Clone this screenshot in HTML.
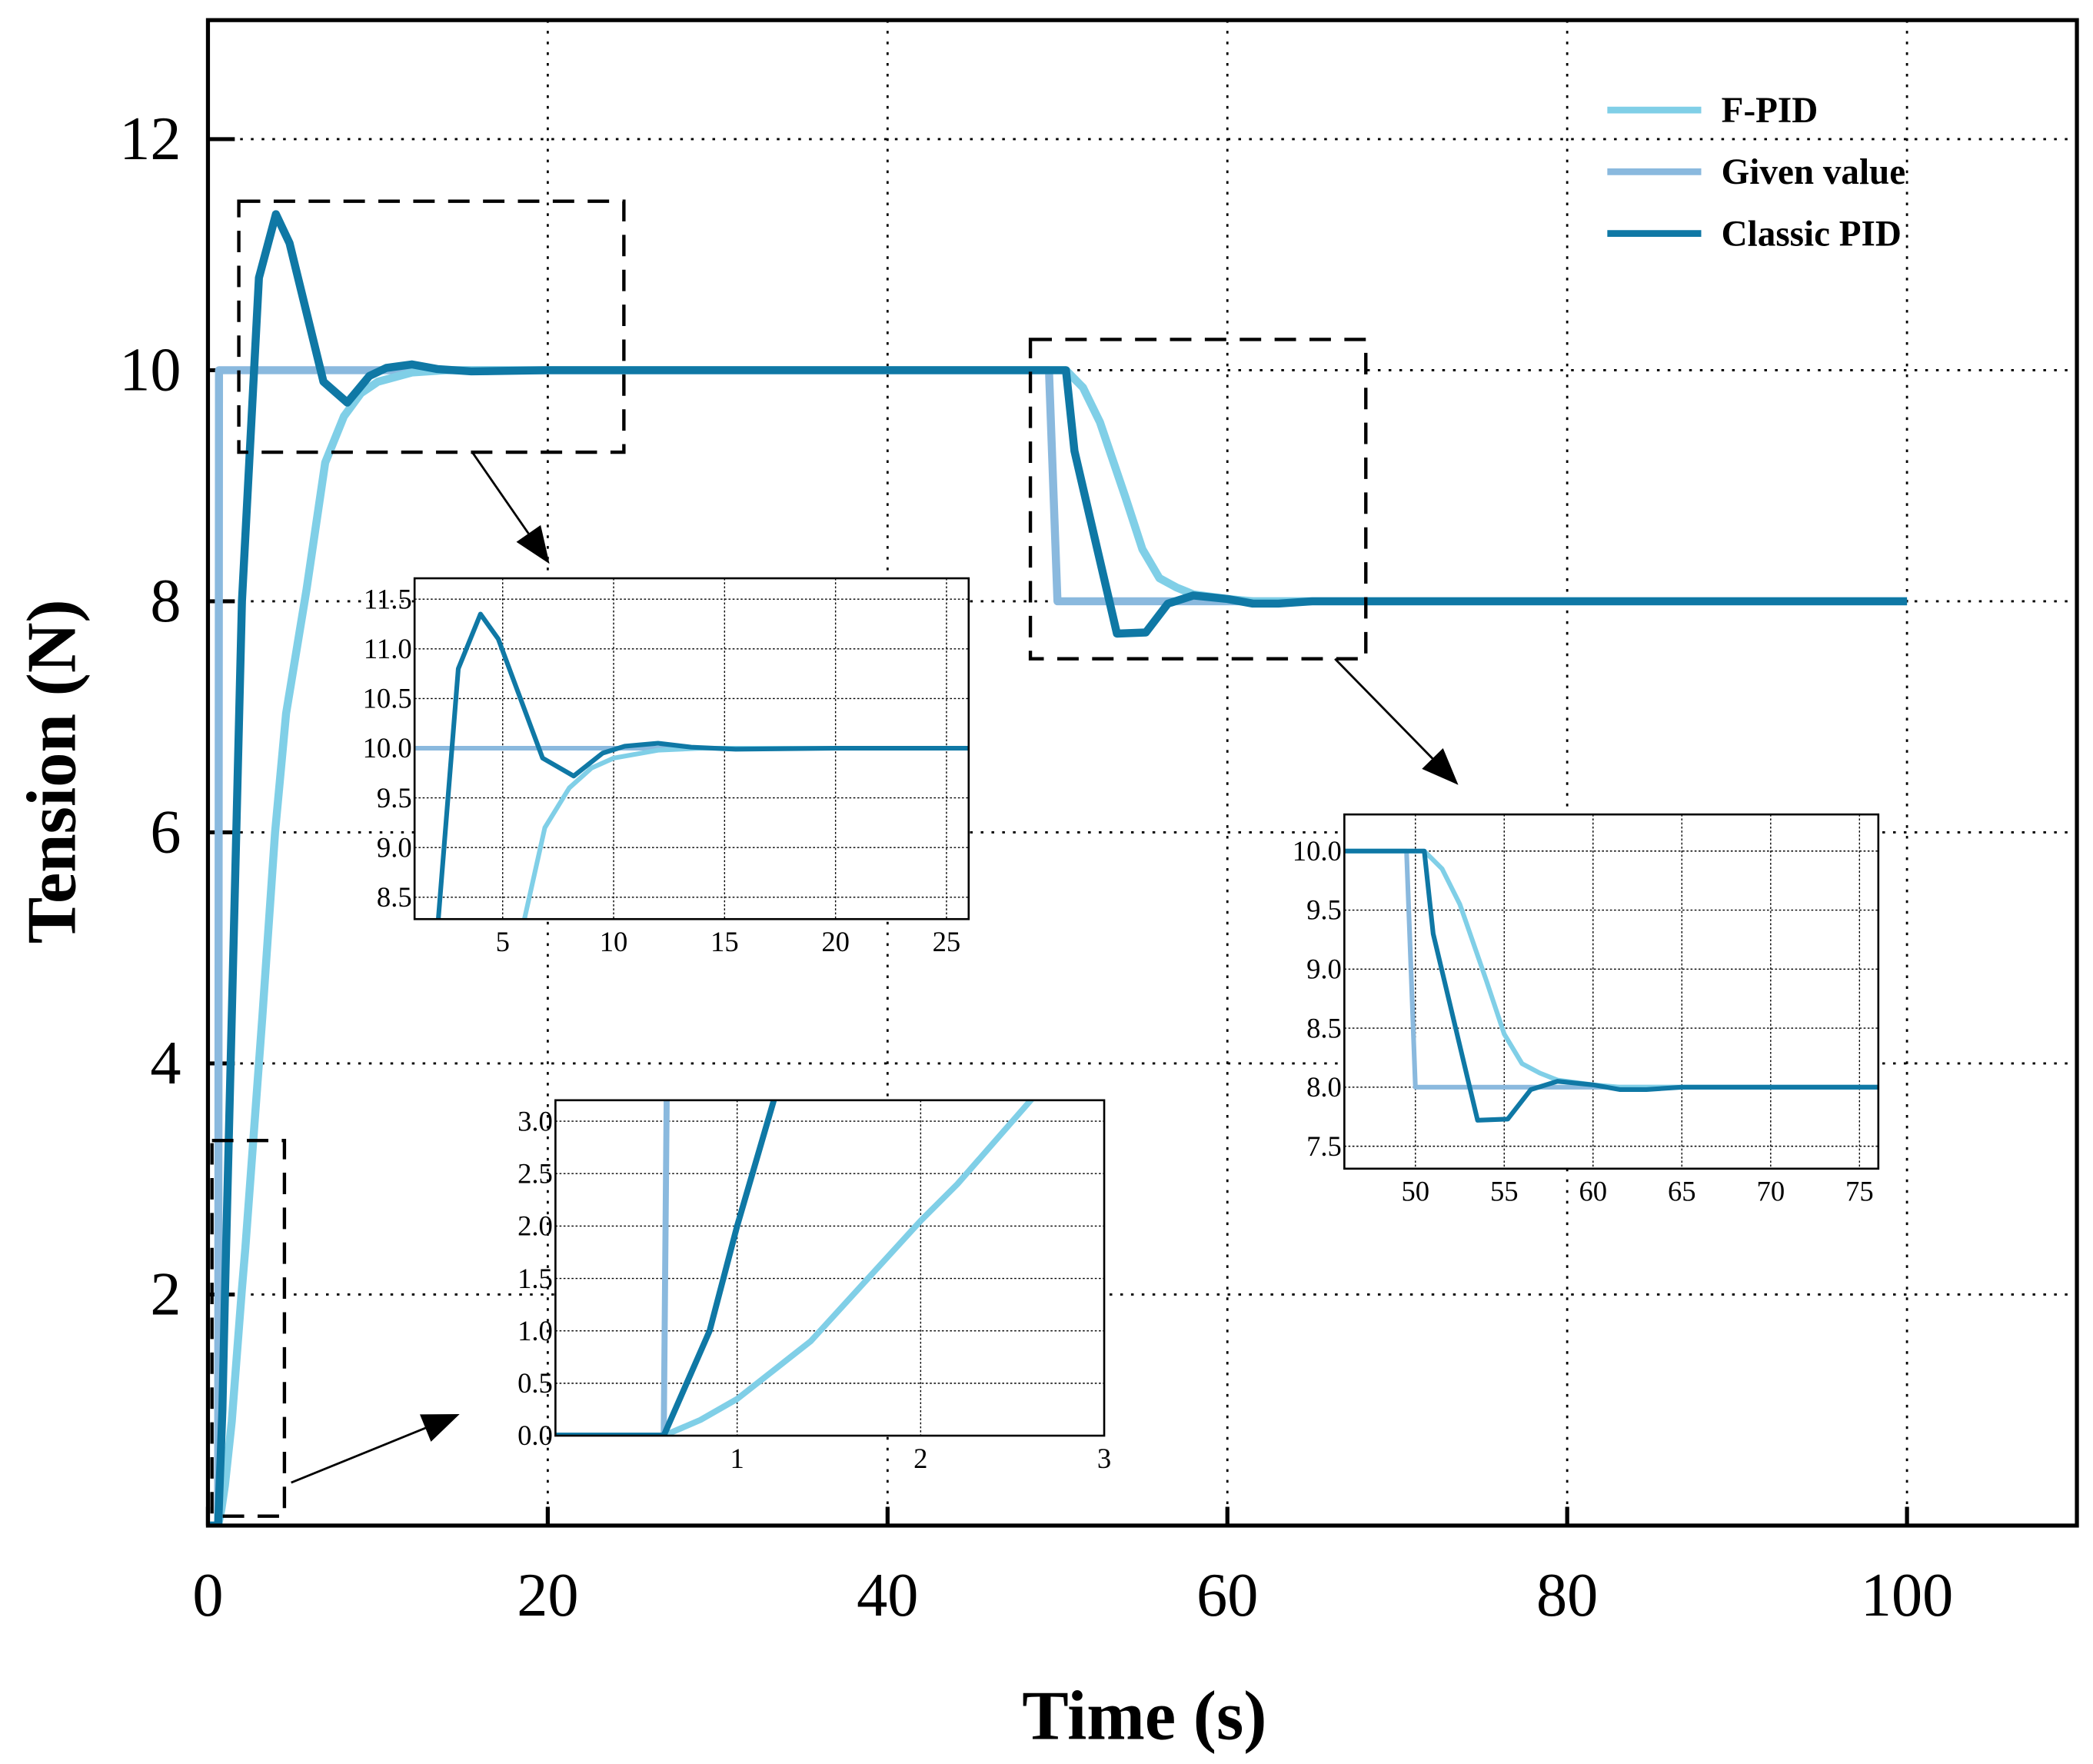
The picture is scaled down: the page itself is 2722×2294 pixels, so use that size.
<!DOCTYPE html>
<html><head><meta charset="utf-8"><style>
html,body{margin:0;padding:0;background:#fff;width:2722px;height:2294px;overflow:hidden}
svg{display:block;position:absolute;left:0;top:0}
text{font-family:"Liberation Serif",serif;fill:#000}
</style></head><body>
<svg id="c" width="2722" height="2294" viewBox="0 0 1560 1314.7" preserveAspectRatio="none" xmlns="http://www.w3.org/2000/svg"></svg>
<script>
// ---- data ----
const givenT = [0, 0.6, 0.65, 49.5, 50.0, 100];
const givenV = [0, 0, 10, 10, 8, 8];
const classicT = [0, 0.6, 0.85, 1.0, 1.2, 2.0, 3.0, 4.0, 4.8, 6.8, 8.2, 9.5, 10.5, 12, 13.5, 15.5, 20, 50.5, 51, 53.5, 55.2, 56.5, 58, 60, 61.5, 63, 65, 100];
const classicV = [0, 0, 1.0, 2.0, 3.2, 8.0, 10.8, 11.35, 11.1, 9.9, 9.72, 9.95, 10.02, 10.05, 10.01, 9.99, 10.0, 10.0, 9.3, 7.72, 7.73, 7.98, 8.05, 8.02, 7.98, 7.98, 8.0, 8.0];
const fpidT = [0, 0.6, 0.8, 1.0, 1.4, 2.0, 2.2, 2.55, 3.2, 3.95, 4.6, 5.8, 6.9, 8.0, 9.0, 10, 12, 14, 50.5, 51.5, 52.5, 54, 55, 56, 57, 58, 60, 61.5, 100];
const fpidV = [0, 0, 0.15, 0.35, 0.9, 2.05, 2.4, 3.1, 4.4, 6.0, 7.03, 8.1, 9.2, 9.6, 9.8, 9.9, 9.98, 10.0, 10.0, 9.85, 9.55, 8.9, 8.45, 8.2, 8.12, 8.06, 8.02, 8.0, 8.0];
const mainXTicks = [0, 20, 40, 60, 80, 100];
const mainYTicks = [2, 4, 6, 8, 10, 12];
const in1XTicks = [5, 10, 15, 20, 25];
const in1YTicks = ["8.5","9.0","9.5","10.0","10.5","11.0","11.5"];
const in2XTicks = [50, 55, 60, 65, 70, 75];
const in2YTicks = ["7.5","8.0","8.5","9.0","9.5","10.0"];
const in3XTicks = [1, 2, 3];
const in3YTicks = ["0.0","0.5","1.0","1.5","2.0","2.5","3.0"];
const series = [
  {name:'given-value', t:givenT, v:givenV, color:'#8ab9de'},
  {name:'f-pid', t:fpidT, v:fpidV, color:'#80cfe7'},
  {name:'classic-pid', t:classicT, v:classicV, color:'#0f78a5'}
];
// ---- drawing ----
const NS='http://www.w3.org/2000/svg';
const svg=document.getElementById('c');
function mk(tag, attrs, parent){const e=document.createElementNS(NS,tag);for(const k in attrs)e.setAttribute(k,attrs[k]);(parent||svg).appendChild(e);return e;}
let clipId=0;
function axes(box, xr, yr){
  const sx=t=>box.x0+(t-xr[0])/(xr[1]-xr[0])*(box.x1-box.x0);
  const sy=v=>box.y1-(v-yr[0])/(yr[1]-yr[0])*(box.y1-box.y0);
  return {sx,sy};
}
function drawSeries(g, ax, box, width, prefix){
  const id='clip'+(clipId++);
  const cp=mk('clipPath',{id:id},g);
  mk('rect',{x:box.x0,y:box.y0,width:box.x1-box.x0,height:box.y1-box.y0},cp);
  series.forEach(s=>{
    const d=s.t.map((t,i)=>(i?'L':'M')+ax.sx(t).toFixed(2)+','+ax.sy(s.v[i]).toFixed(2)).join(' ');
    const p=mk('path',{d:d,fill:'none',stroke:s.color,'stroke-width':width,'stroke-linejoin':'round','clip-path':'url(#'+id+')'},g);
    
    
  });
}
// Main plot
const MB={x0:155,x1:1548,y0:15,y1:1137};
const M=axes(MB,[0,110],[0,13.03]);
const gMain=mk('g',{});


mainXTicks.forEach(t=>{
  if(t>0){const l=mk('line',{x1:M.sx(t),x2:M.sx(t),y1:MB.y0,y2:MB.y1,stroke:'#000','stroke-width':1.6,'stroke-dasharray':'2,6'},gMain);
  
  }
  const tk=mk('line',{x1:M.sx(t),x2:M.sx(t),y1:MB.y1,y2:MB.y1-14,stroke:'#000','stroke-width':3},gMain);
  
  
  const tx=mk('text',{x:M.sx(t),y:1204,'font-size':46,'text-anchor':'middle'},gMain);
  tx.textContent=t;
  
  
});
mainYTicks.forEach(v=>{
  const l=mk('line',{x1:MB.x0,x2:MB.x1,y1:M.sy(v),y2:M.sy(v),stroke:'#000','stroke-width':1.6,'stroke-dasharray':'2,6'},gMain);
  
  
  const tk=mk('line',{x1:MB.x0,x2:MB.x0+20,y1:M.sy(v),y2:M.sy(v),stroke:'#000','stroke-width':3},gMain);
  
  
  const tx=mk('text',{x:135,y:M.sy(v)+15,'font-size':46,'text-anchor':'end'},gMain);
  tx.textContent=v;
  
  
});
drawSeries(gMain,M,MB,6,'main');
const fr=mk('rect',{x:MB.x0,y:MB.y0,width:MB.x1-MB.x0,height:MB.y1-MB.y0,fill:'none',stroke:'#000','stroke-width':3},gMain);


// axis titles
const xt=mk('text',{x:853,y:1296,'font-size':52,'font-weight':'bold','text-anchor':'middle'});
xt.textContent='Time (s)';


const yt=mk('text',{x:0,y:0,'font-size':52,'font-weight':'bold','text-anchor':'middle',transform:'translate(56,575) rotate(-90)'});
yt.textContent='Tension (N)';


// legend
const gl=mk('g',{});


[['F-PID','#80cfe7',82],['Given value','#8ab9de',128],['Classic PID','#0f78a5',174]].forEach(e=>{
  const l=mk('line',{x1:1198,x2:1268,y1:e[2],y2:e[2],stroke:e[1],'stroke-width':5},gl);
  
  
  const t=mk('text',{x:1283,y:e[2]+9,'font-size':27,'font-weight':'bold'},gl);
  t.textContent=e[0];
  
  
});
// dashed zoom boxes and arrows
[[178,150,465,337],[768,253,1018,491],[158,850,212,1130]].forEach(b=>{
  const r=mk('rect',{x:b[0],y:b[1],width:b[2]-b[0],height:b[3]-b[1],fill:'none',stroke:'#000','stroke-width':2.5,'stroke-dasharray':'16,10'});
  
  
});
const defs=mk('defs',{});
const mrk=mk('marker',{id:'ah',markerWidth:28,markerHeight:22,refX:9,refY:4,orient:'auto',markerUnits:'userSpaceOnUse',viewBox:'0 0 10 8'},defs);
mk('path',{d:'M0,0 L10,4 L0,8 Z',fill:'#000'},mrk);
[[352,337,408,418],[995,491,1085,583],[217,1105,340,1055]].forEach(a=>{
  const l=mk('line',{x1:a[0],y1:a[1],x2:a[2],y2:a[3],stroke:'#000','stroke-width':1.6,'marker-end':'url(#ah)'});
  
  
});
// insets
function inset(name, box, xr, yr, xt, yt, lw){
  const g=mk('g',{});
  
  
  mk('rect',{x:box.x0,y:box.y0,width:box.x1-box.x0,height:box.y1-box.y0,fill:'#fff'},g);
  const A=axes(box,xr,yr);
  xt.forEach(t=>{
    const l=mk('line',{x1:A.sx(t),x2:A.sx(t),y1:box.y0,y2:box.y1,stroke:'#000','stroke-width':0.8,'stroke-dasharray':'1.5,1.5'},g);
    
    
    const tx=mk('text',{x:A.sx(t),y:box.y1+24,'font-size':21,'text-anchor':'middle'},g);
    tx.textContent=t;
    
    
  });
  yt.forEach(s=>{
    const v=parseFloat(s);
    const l=mk('line',{x1:box.x0,x2:box.x1,y1:A.sy(v),y2:A.sy(v),stroke:'#000','stroke-width':0.8,'stroke-dasharray':'1.5,1.5'},g);
    
    
    const tx=mk('text',{x:box.x0-2,y:A.sy(v)+7,'font-size':21,'text-anchor':'end'},g);
    tx.textContent=s;
    
    
  });
  drawSeries(g,A,box,lw,name);
  mk('rect',{x:box.x0,y:box.y0,width:box.x1-box.x0,height:box.y1-box.y0,fill:'none',stroke:'#000','stroke-width':1.5},g);
}
inset('inset-overshoot',{x0:309,x1:722,y0:431,y1:685},[1.03,26],[8.28,11.71],in1XTicks,in1YTicks,3.5);
inset('inset-step-down',{x0:1002,x1:1400,y0:607,y1:871},[46.0,76.06],[7.31,10.31],in2XTicks,in2YTicks,3.5);
inset('inset-startup',{x0:414,x1:823,y0:820,y1:1070},[0.01,3.0],[0,3.2],in3XTicks,in3YTicks,4.5);
</script>
</body></html>
